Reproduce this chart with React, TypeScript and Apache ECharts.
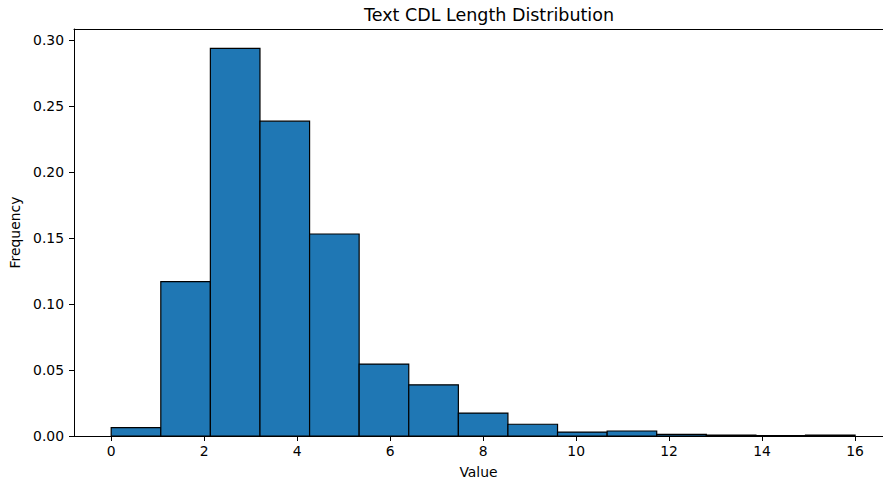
import React, { useEffect, useRef } from "react";
import * as echarts from "echarts";

const binEdges = [0, 1.067, 2.133, 3.2, 4.267, 5.333, 6.4, 7.467, 8.533, 9.6, 10.667, 11.733, 12.8, 13.867, 14.933, 16];
const frequencies = [0.0063, 0.117, 0.2936, 0.2385, 0.153, 0.0545, 0.0388, 0.0174, 0.0089, 0.003, 0.0038, 0.0012, 0.0007, 0.0003, 0.0006];
const xTicks = [0, 2, 4, 6, 8, 10, 12, 14, 16];
const yTicks = [0, 0.05, 0.1, 0.15, 0.2, 0.25, 0.3];

const FONT = "DejaVu Sans";

export default function App() {
  const ref = useRef<HTMLDivElement>(null);
  useEffect(() => {
    document.body.style.margin = "0";
    const chart = echarts.init(ref.current!, null, { renderer: "svg" });
    const data = frequencies.map((f, i) => [binEdges[i], binEdges[i + 1], f]);
    chart.setOption({
      animation: false,
      backgroundColor: "#fff",
      textStyle: { fontFamily: FONT },
      title: {
        text: "Text CDL Length Distribution",
        left: 484,
        top: 1,
        textAlign: "center",
        textStyle: { fontFamily: FONT, fontSize: 17.5, fontWeight: "normal", color: "#000" },
      },
      grid: { left: 74, top: 29, right: 0, bottom: 51, containLabel: false },
      xAxis: [
        {
          type: "value",
          min: -0.8,
          max: 16.6,
          name: "Value",
          nameLocation: "middle",
          nameGap: 28.5,
          nameTextStyle: { fontFamily: FONT, fontSize: 13.9, color: "#000" },
          splitLine: { show: false },
          axisLine: { show: true, onZero: false, lineStyle: { color: "#000", width: 1 } },
          axisTick: { show: true, length: 5, lineStyle: { color: "#000" }, customValues: xTicks },
          axisLabel: { fontFamily: FONT, fontSize: 13.9, color: "#000", margin: 8, customValues: xTicks },
        },
        {
          type: "value",
          position: "top",
          min: -0.8,
          max: 16.6,
          axisLine: { show: true, onZero: false, lineStyle: { color: "#000", width: 1 } },
          axisTick: { show: false },
          axisLabel: { show: false },
          splitLine: { show: false },
        },
      ],
      yAxis: {
        type: "value",
        min: 0,
        max: 0.3083,
        name: "Frequency",
        nameLocation: "middle",
        nameGap: 49,
        nameTextStyle: { fontFamily: FONT, fontSize: 13.9, color: "#000" },
        splitLine: { show: false },
        axisLine: { show: true, onZero: false, lineStyle: { color: "#000", width: 1 } },
        axisTick: { show: true, length: 5, lineStyle: { color: "#000" }, customValues: yTicks },
        axisLabel: {
          fontFamily: FONT,
          fontSize: 13.9,
          color: "#000",
          margin: 10,
          customValues: yTicks,
          formatter: (v: number) => v.toFixed(2),
        },
      },
      series: [
        {
          type: "custom",
          xAxisIndex: 0,
          encode: { x: [0, 1], y: 2 },
          data,
          renderItem: (params: any, api: any) => {
            const x0 = api.value(0);
            const x1 = api.value(1);
            const h = api.value(2);
            const p0 = api.coord([x0, h]);
            const p1 = api.coord([x1, 0]);
            return {
              type: "rect",
              shape: { x: p0[0], y: p0[1], width: p1[0] - p0[0], height: p1[1] - p0[1] },
              style: { fill: "#1f77b4", stroke: "#000", lineWidth: 1.2 },
            };
          },
        },
      ],
    });
    return () => chart.dispose();
  }, []);
  return <div ref={ref} style={{ width: 883, height: 487 }} />;
}
